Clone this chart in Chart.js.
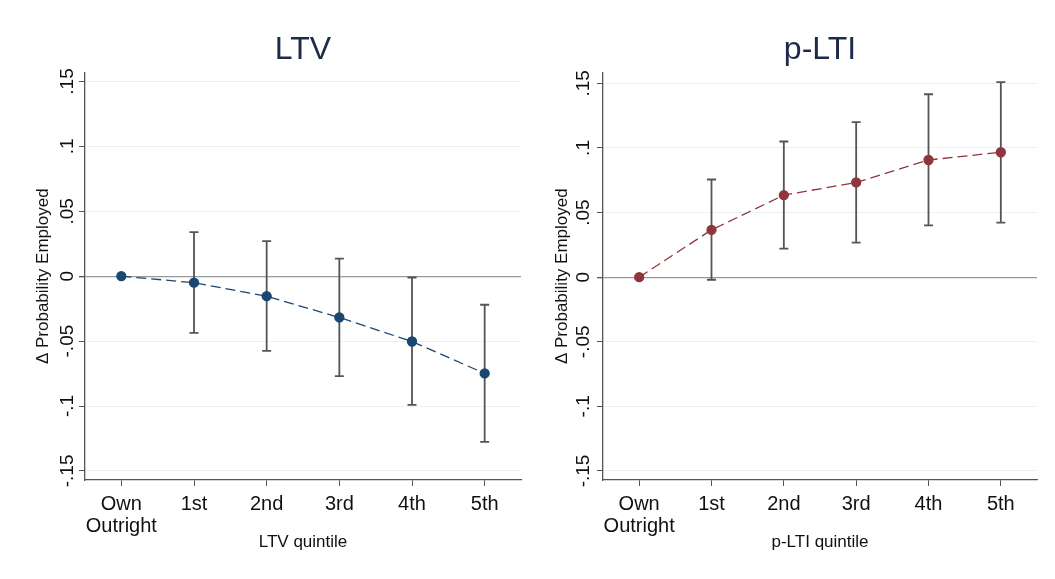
<!DOCTYPE html>
<html>
<head>
<meta charset="utf-8">
<script src="https://cdn.jsdelivr.net/npm/chart.js@4.4.0/dist/chart.umd.min.js"></script>
<style>
  body { margin: 0; background: #fff; }
  .panel { position: absolute; top: 0; }
</style>
</head>
<body>
<canvas id="ltvChart" class="panel" width="527" height="579" style="left:0"></canvas>
<canvas id="ltiChart" class="panel" width="528" height="579" style="left:527px"></canvas>
<script>
// categories on the x axis (0..5)
const xTickLabels = [["Own", "Outright"], "1st", "2nd", "3rd", "4th", "5th"];
const xPositions = [0, 1, 2, 3, 4, 5];

// y ticks, Stata style labels
const yTicks = [-0.15, -0.1, -0.05, 0, 0.05, 0.1, 0.15];
const yTickLabels = ["-.15", "-.1", "-.05", "0", ".05", ".1", ".15"];

// LTV panel
const ltvEst = [0, -0.005, -0.0154, -0.0318, -0.0503, -0.0749];
const ltvLow = [null, -0.0436, -0.0575, -0.077, -0.0992, -0.1277];
const ltvHigh = [null, 0.034, 0.027, 0.0136, -0.001, -0.022];

// p-LTI panel
const ltiEst = [0, 0.0366, 0.0635, 0.0733, 0.0907, 0.0967];
const ltiLow = [null, -0.002, 0.0221, 0.0268, 0.0401, 0.0422];
const ltiHigh = [null, 0.0756, 0.105, 0.12, 0.1416, 0.151];

const FONT = "'Liberation Sans', Arial, sans-serif";

// rcap style error bars + rotated y tick labels
const stataBits = {
  id: "stataBits",
  beforeDatasetsDraw(chart, args, opts) {
    const ctx = chart.ctx;
    const xs = chart.scales.x, ys = chart.scales.y;
    ctx.save();
    ctx.strokeStyle = opts.color;
    ctx.lineWidth = 1.8;
    opts.low.forEach((lo, i) => {
      const hi = opts.high[i];
      if (lo === null || hi === null) return;
      const x = xs.getPixelForValue(xPositions[i]);
      const y1 = ys.getPixelForValue(lo);
      const y2 = ys.getPixelForValue(hi);
      ctx.beginPath();
      ctx.moveTo(x, y1); ctx.lineTo(x, y2);
      ctx.moveTo(x - 4.5, y1); ctx.lineTo(x + 4.5, y1);
      ctx.moveTo(x - 4.5, y2); ctx.lineTo(x + 4.5, y2);
      ctx.stroke();
    });
    ctx.restore();
  },
  afterDraw(chart, args, opts) {
    const ctx = chart.ctx;
    const ys = chart.scales.y;
    ctx.save();
    ctx.fillStyle = "#111";
    ctx.font = "19px " + FONT;
    ctx.textAlign = "center";
    ctx.textBaseline = "middle";
    yTicks.forEach((v, i) => {
      const y = ys.getPixelForValue(v);
      ctx.save();
      ctx.translate(ys.right - opts.labelOffset, y);
      ctx.rotate(-Math.PI / 2);
      ctx.fillText(yTickLabels[i], 0, 0);
      ctx.restore();
    });
    ctx.restore();
  }
};

function makePanel(id, title, xTitle, est, low, high, color, lay) {
  return new Chart(document.getElementById(id), {
    type: "line",
    data: {
      datasets: [{
        data: est.map((v, i) => ({ x: xPositions[i], y: v })),
        borderColor: color,
        borderWidth: 1.3,
        borderDash: [10, 5],
        pointBackgroundColor: color,
        pointBorderColor: color,
        pointRadius: 4.5,
        tension: 0,
      }],
    },
    options: {
      responsive: false,
      animation: false,
      layout: { padding: { top: 20, left: lay.left, right: lay.right, bottom: 24 } },
      plugins: {
        legend: { display: false },
        tooltip: { enabled: false },
        title: {
          display: true,
          text: title,
          fullSize: false,
          color: "#1c2b4a",
          font: { family: FONT, size: 32, weight: "normal" },
          padding: { top: 11, bottom: 3 },
        },
        stataBits: { low: low, high: high, color: "#555", labelOffset: lay.labelOffset },
      },
      scales: {
        x: {
          type: "linear",
          min: -0.5,
          max: 5.5,
          afterBuildTicks: s => { s.ticks = xPositions.map(v => ({ value: v })); },
          afterFit: s => { s.height = 75; },
          ticks: {
            color: "#111",
            padding: 8,
            font: { family: FONT, size: 20, lineHeight: 1.07 },
            callback: v => xTickLabels[v],
            maxRotation: 0,
          },
          grid: { drawOnChartArea: false, drawTicks: true, tickLength: 6, tickColor: "#555" },
          border: { display: true, color: "#555", width: 1.3 },
          title: {
            display: true,
            text: xTitle,
            color: "#111",
            font: { family: FONT, size: 17 },
            padding: { top: 0, bottom: 2 },
          },
        },
        y: {
          min: lay.yMin,
          max: lay.yMax,
          afterBuildTicks: s => { s.ticks = yTicks.map(v => ({ value: v })); },
          afterFit: s => { s.width = lay.yWidth; },
          ticks: { display: false },
          grid: {
            color: c => (c.tick && c.tick.value === 0 ? "#999" : "#eaf2f3"),
            lineWidth: c => (c.tick && c.tick.value === 0 ? 1.3 : 1),
            drawTicks: true,
            tickLength: 6,
            tickColor: "#555",
          },
          border: { display: true, color: "#555", width: 1.3 },
          title: {
            display: true,
            text: "Δ Probability Employed",
            color: "#111",
            font: { family: FONT, size: 17 },
            padding: { top: 5, bottom: 0 },
          },
        },
      },
    },
    plugins: [stataBits],
  });
}

makePanel("ltvChart", "LTV", "LTV quintile", ltvEst, ltvLow, ltvHigh, "#1a476f",
  { left: 28, right: 6, yWidth: 57, yMin: -0.157, yMax: 0.157, labelOffset: 17 });
makePanel("ltiChart", "p-LTI", "p-LTI quintile", ltiEst, ltiLow, ltiHigh, "#90353b",
  { left: 20, right: 18, yWidth: 56, yMin: -0.157, yMax: 0.1585, labelOffset: 19 });
</script>
</body>
</html>
